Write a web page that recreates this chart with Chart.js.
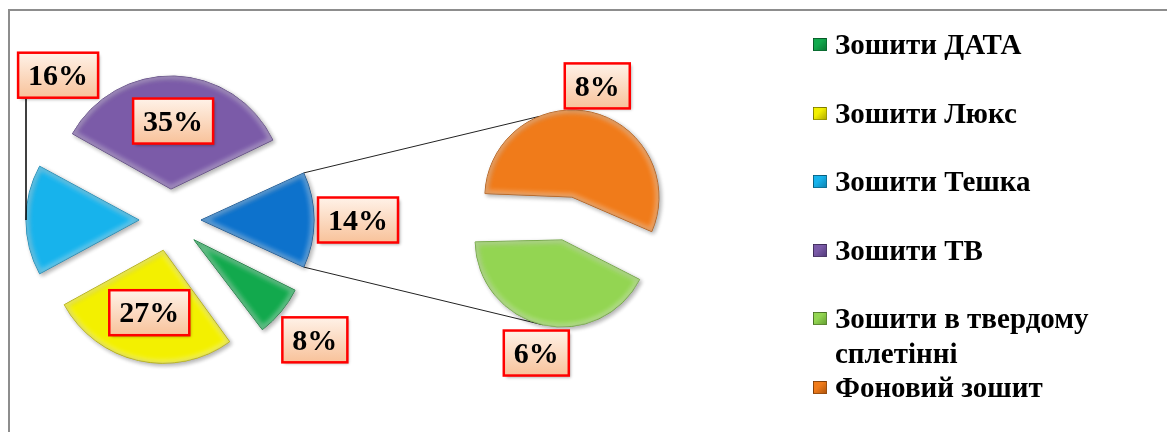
<!DOCTYPE html>
<html>
<head>
<meta charset="utf-8">
<script src="https://cdn.jsdelivr.net/npm/chart.js@4.4.1/dist/chart.umd.min.js"></script>
<style>
  body { margin: 0; background: #fff; }
  #wrap { position: relative; width: 1167px; height: 432px; overflow: hidden; background: #fff; }
  #frame { position: absolute; left: 8px; top: 9px; width: 1200px; height: 500px; border-left: 2px solid #8d8d8d; border-top: 2px solid #8d8d8d; }
  canvas { position: absolute; left: 0; top: 0; }
  #legend { position: absolute; left: 813px; top: 27px; font: bold 29px "Liberation Serif", "Times New Roman", serif; color: #000; }
  .item { position: relative; height: 68.6px; width: 300px; padding-left: 22px; line-height: 35px; box-sizing: border-box; }
  .sw { position: absolute; left: 0; top: 11px; width: 12px; height: 11px; border: 1px solid rgba(0,0,0,0.35); }
</style>
</head>
<body>
<div id="wrap">
  <div id="frame"></div>
  <canvas id="pieMain" width="1167" height="432"></canvas>
  <canvas id="pieSecond" width="1167" height="432"></canvas>
  <div id="legend"></div>
</div>
<script>
// data
const categories = ['Зошити ДАТА', 'Зошити Люкс', 'Зошити Тешка', 'Зошити ТВ', 'Зошити в твердому сплетінні', 'Фоновий зошит'];
const shares = [8, 27, 16, 35, 6, 8];
const colors = ['#12a94d', '#f3f000', '#17b3ec', '#7b5ba8', '#93d552', '#f07b1a'];
const edgeColors = ['#0b7a36', '#b3ad00', '#0f86b4', '#563d7e', '#67a233', '#b3570c'];
const otherColor = '#0d72cc';
const otherEdge = '#0a4f91';

// which categories go to the main pie and which to the small one
const mainIdx = [0, 1, 2, 3];
const secondIdx = [5, 4];

const otherShare = secondIdx.reduce((s, i) => s + shares[i], 0);
const mainData = [otherShare].concat(mainIdx.map(i => shares[i]));
const secondData = secondIdx.map(i => shares[i]);

// layout / style
const mainRadius = 113, mainExplode = 124;
const secondRadius = 87, secondExplode = 88;
const mainLabelPos = [[188, 0], [188, 0], [95, 0], [183, 52.3], [99, 0]]; // [distance, angle shift]
const secondLabelPos = [[136, 0], [138, 0]];
const connectorAngles = [-112, 103];

function geom(arc, radius) {
  const off = (arc.options.offset || 0) / 4;
  const circ = arc.endAngle - arc.startAngle;
  const fix = 1 - Math.sin(Math.min(Math.PI, circ));
  const mid = (arc.startAngle + arc.endAngle) / 2;
  const shrink = (off * fix / Math.PI) / radius / 2;
  return {
    x: arc.x + Math.cos(mid) * off,
    y: arc.y + Math.sin(mid) * off,
    r: radius, mid: mid,
    start: arc.startAngle + shrink,
    end: arc.endAngle - shrink
  };
}

// keep every exploded slice at the same radius (like excel does) + soft bevel
const evenExplode = {
  id: 'evenExplode',
  beforeDatasetsDraw(chart, args, opts) {
    chart.getDatasetMeta(0).data.forEach(arc => {
      const off = (arc.options.offset || 0) / 4;
      const fix = 1 - Math.sin(Math.min(Math.PI, arc.endAngle - arc.startAngle));
      arc.outerRadius = opts.radius - off * fix;
    });
    const ctx = chart.ctx;
    ctx.save();
    ctx.shadowColor = 'rgba(0,0,0,0.3)';
    ctx.shadowBlur = 4;
    ctx.shadowOffsetX = 2;
    ctx.shadowOffsetY = 2;
  },
  afterDatasetsDraw(chart, args, opts) {
    const ctx = chart.ctx;
    ctx.restore();
    chart.getDatasetMeta(0).data.forEach(arc => {
      const g = geom(arc, opts.radius);
      ctx.save();
      ctx.beginPath();
      ctx.moveTo(g.x, g.y);
      ctx.arc(g.x, g.y, g.r, g.start, g.end);
      ctx.closePath();
      ctx.clip();
      ctx.lineJoin = 'round';
      ctx.filter = 'blur(2px)';
      ctx.strokeStyle = 'rgba(255,255,255,0.35)';
      ctx.lineWidth = 7;
      ctx.stroke();
      ctx.strokeStyle = 'rgba(0,0,0,0.12)';
      ctx.lineWidth = 2;
      ctx.stroke();
      ctx.restore();
    });
  }
};

function drawBox(ctx, text, cx, cy) {
  ctx.save();
  ctx.font = 'bold 30px "Liberation Serif", serif';
  const w = ctx.measureText(text).width + 20, h = 45;
  const x = cx - w / 2, y = cy - h / 2;
  ctx.shadowColor = 'rgba(0,0,0,0.35)';
  ctx.shadowBlur = 3;
  ctx.shadowOffsetX = 2;
  ctx.shadowOffsetY = 2;
  const g = ctx.createLinearGradient(0, y, 0, y + h);
  g.addColorStop(0, '#fff2e8');
  g.addColorStop(1, '#f8c29a');
  ctx.fillStyle = g;
  ctx.fillRect(x, y, w, h);
  ctx.shadowColor = 'transparent';
  ctx.strokeStyle = '#ff0000';
  ctx.lineWidth = 2.5;
  ctx.strokeRect(x, y, w, h);
  ctx.fillStyle = '#000';
  ctx.textAlign = 'center';
  ctx.textBaseline = 'middle';
  ctx.fillText(text, cx, cy + 2);
  ctx.restore();
  return {x, y, w, h};
}

const pctLabels = {
  id: 'pctLabels',
  afterDraw(chart, args, opts) {
    const ctx = chart.ctx;
    const values = chart.data.datasets[0].data;
    chart.getDatasetMeta(0).data.forEach((arc, i) => {
      const [d, shift] = opts.pos[i];
      const a = (arc.startAngle + arc.endAngle) / 2 + shift * Math.PI / 180;
      const lx = arc.x + Math.cos(a) * d, ly = arc.y + Math.sin(a) * d;
      if (shift) {
        // leader line from the slice edge up to the label
        const g = geom(arc, opts.radius);
        const px = g.x + Math.cos(g.mid) * g.r, py = g.y + Math.sin(g.mid) * g.r;
        ctx.save();
        ctx.strokeStyle = '#000';
        ctx.lineWidth = 1.5;
        ctx.beginPath();
        ctx.moveTo(px, py);
        ctx.lineTo(px, ly + 22);
        ctx.stroke();
        ctx.restore();
      }
      drawBox(ctx, values[i] + '%', lx, ly);
    });
  }
};

let mainChart;

const connectors = {
  id: 'connectors',
  beforeDatasetsDraw(chart, args, opts) {
    if (!mainChart) return;
    const o = geom(mainChart.getDatasetMeta(0).data[0], mainRadius);
    const arcs = chart.getDatasetMeta(0).data;
    const from = [o.start, o.end].map(a => [o.x + Math.cos(a) * o.r, o.y + Math.sin(a) * o.r]);
    const ctx = chart.ctx;
    ctx.save();
    ctx.strokeStyle = '#222';
    ctx.lineWidth = 1;
    arcs.forEach((arc, i) => {
      const g = geom(arc, secondRadius);
      const a = opts.angles[i] * Math.PI / 180;
      ctx.beginPath();
      ctx.moveTo(from[i][0], from[i][1]);
      ctx.lineTo(g.x + Math.cos(a) * g.r, g.y + Math.sin(a) * g.r);
      ctx.stroke();
    });
    ctx.restore();
  }
};

mainChart = new Chart(document.getElementById('pieMain'), {
  type: 'pie',
  data: {
    labels: ['Інші'].concat(mainIdx.map(i => categories[i])),
    datasets: [{
      data: mainData,
      backgroundColor: [otherColor].concat(mainIdx.map(i => colors[i])),
      borderColor: [otherEdge].concat(mainIdx.map(i => edgeColors[i])),
      borderWidth: 1,
      offset: mainExplode,
      radius: mainRadius,
      rotation: 90 - otherShare / 100 * 180
    }]
  },
  options: {
    responsive: false,
    animation: false,
    layout: { padding: { left: 0, right: 827, top: 8, bottom: 0 } },
    plugins: {
      legend: { display: false },
      tooltip: { enabled: false },
      evenExplode: { radius: mainRadius },
      pctLabels: { pos: mainLabelPos, radius: mainRadius }
    }
  },
  plugins: [evenExplode, pctLabels]
});

new Chart(document.getElementById('pieSecond'), {
  type: 'pie',
  data: {
    labels: secondIdx.map(i => categories[i]),
    datasets: [{
      data: secondData,
      backgroundColor: secondIdx.map(i => colors[i]),
      borderColor: secondIdx.map(i => edgeColors[i]),
      borderWidth: 1,
      offset: secondExplode,
      radius: secondRadius,
      rotation: 270
    }]
  },
  options: {
    responsive: false,
    animation: false,
    layout: { padding: { left: 0, right: 33, top: 5, bottom: 0 } },
    plugins: {
      legend: { display: false },
      tooltip: { enabled: false },
      evenExplode: { radius: secondRadius },
      connectors: { angles: connectorAngles },
      pctLabels: { pos: secondLabelPos, radius: secondRadius }
    }
  },
  plugins: [connectors, evenExplode, pctLabels]
});

// legend
const legend = document.getElementById('legend');
categories.forEach((name, i) => {
  const item = document.createElement('div');
  item.className = 'item';
  const sw = document.createElement('span');
  sw.className = 'sw';
  sw.style.background = 'linear-gradient(135deg, ' + colors[i] + ' 40%, ' + edgeColors[i] + ')';
  item.appendChild(sw);
  item.appendChild(document.createTextNode(name));
  legend.appendChild(item);
});
</script>
</body>
</html>
